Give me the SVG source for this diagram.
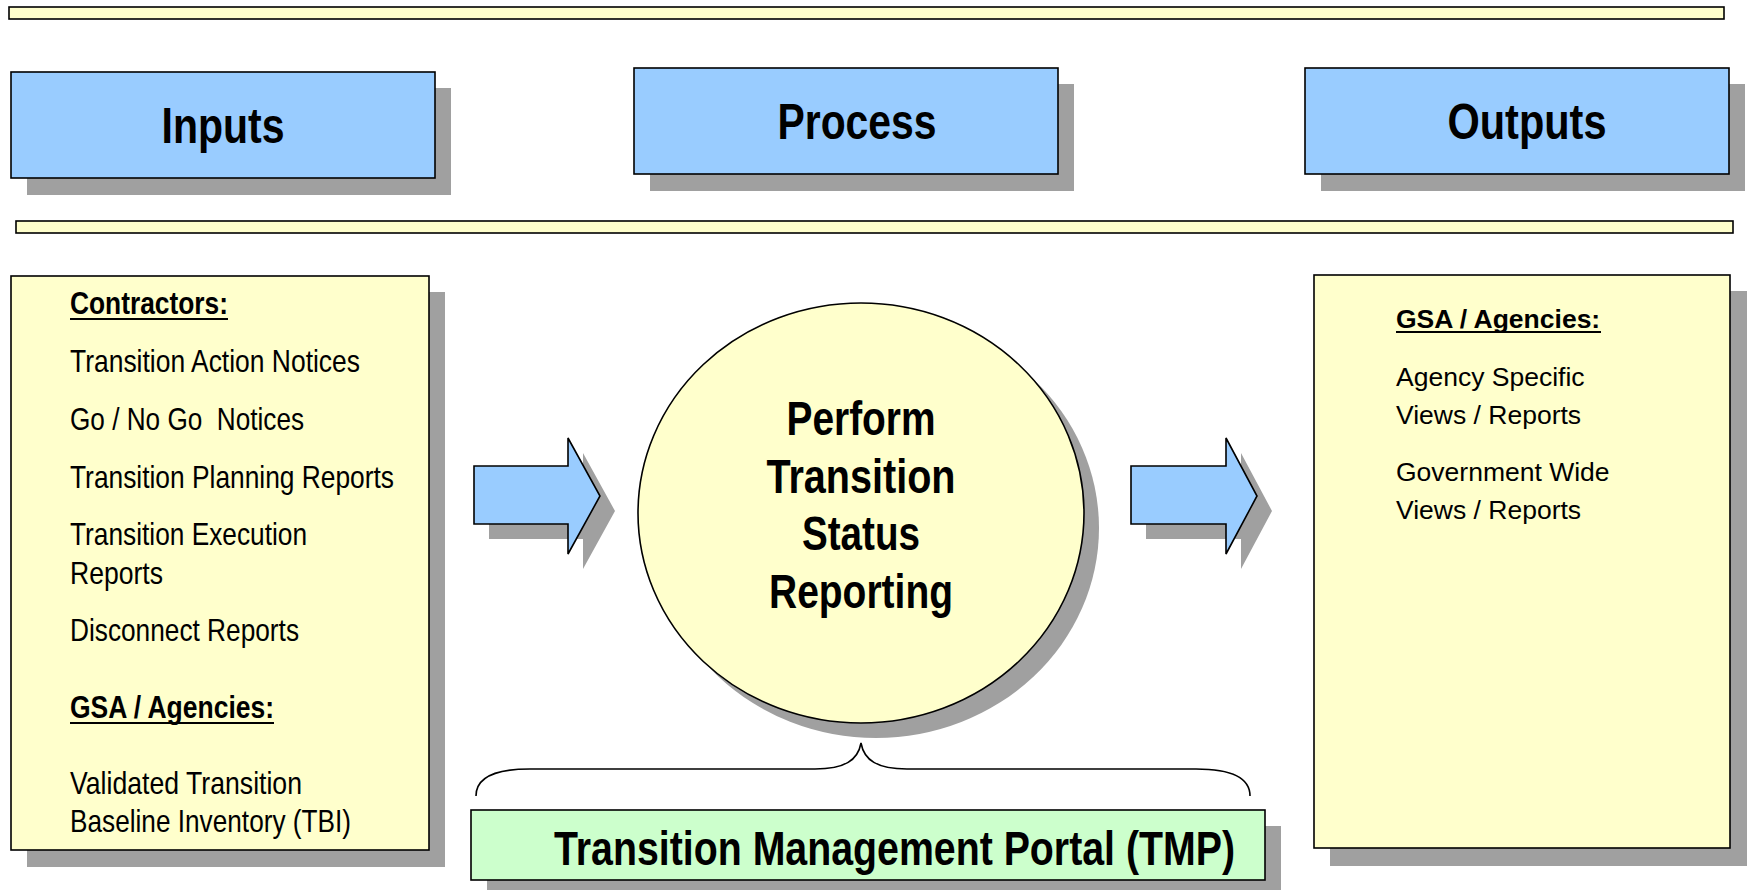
<svg xmlns="http://www.w3.org/2000/svg" width="1747" height="890" viewBox="0 0 1747 890">
<style>
.sh{fill:#a0a0a0;stroke:none}
.blue{fill:#99ccff;stroke:#000;stroke-width:1.6}
.yel{fill:#ffffcc;stroke:#000;stroke-width:1.6}
.grn{fill:#ccffcc;stroke:#000;stroke-width:1.6}
.nb{font-family:'Liberation Sans Narrow','Arial Narrow','Liberation Sans',Arial,sans-serif;font-weight:bold;fill:#000}
.nr{font-family:'Liberation Sans Narrow','Arial Narrow','Liberation Sans',Arial,sans-serif;font-weight:normal;fill:#000}
.ar{font-family:'Liberation Sans',Arial,sans-serif;fill:#000}
.ul{stroke:#000;stroke-width:2}
.brace{fill:none;stroke:#000;stroke-width:1.6}
</style>
<rect width="1747" height="890" fill="#fff"/>

<g id="bar-top"><rect class="yel" x="9" y="7" width="1715" height="12"/></g>
<g id="bar-mid"><rect class="yel" x="16" y="221" width="1717" height="12"/></g>

<g id="inputs">
<rect class="sh" x="27" y="88" width="424" height="107"/>
<rect class="blue" x="11" y="72" width="424" height="106"/>
<text class="nb" x="223" y="143" font-size="50" text-anchor="middle" textLength="123" lengthAdjust="spacingAndGlyphs">Inputs</text>
</g>

<g id="process">
<rect class="sh" x="650" y="84" width="424" height="107"/>
<rect class="blue" x="634" y="68" width="424" height="106"/>
<text class="nb" x="857" y="139" font-size="50" text-anchor="middle" textLength="159" lengthAdjust="spacingAndGlyphs">Process</text>
</g>

<g id="outputs">
<rect class="sh" x="1321" y="84" width="424" height="107"/>
<rect class="blue" x="1305" y="68" width="424" height="106"/>
<text class="nb" x="1527" y="139" font-size="50" text-anchor="middle" textLength="159" lengthAdjust="spacingAndGlyphs">Outputs</text>
</g>

<g id="inputs-list">
<rect class="sh" x="27" y="292" width="418" height="575"/>
<rect class="yel" x="11" y="276" width="418" height="574"/>
<text class="nb" x="70" y="314" font-size="32" textLength="158" lengthAdjust="spacingAndGlyphs">Contractors:</text>
<line class="ul" x1="70" y1="319" x2="228" y2="319"/>
<text class="nr" x="70" y="372" font-size="32" textLength="290" lengthAdjust="spacingAndGlyphs">Transition Action Notices</text>
<text class="nr" x="70" y="430" font-size="32" textLength="234" lengthAdjust="spacingAndGlyphs" xml:space="preserve">Go / No Go  Notices</text>
<text class="nr" x="70" y="488" font-size="32" textLength="324" lengthAdjust="spacingAndGlyphs">Transition Planning Reports</text>
<text class="nr" x="70" y="545" font-size="32" textLength="237" lengthAdjust="spacingAndGlyphs">Transition Execution</text>
<text class="nr" x="70" y="584" font-size="32" textLength="93" lengthAdjust="spacingAndGlyphs">Reports</text>
<text class="nr" x="70" y="641" font-size="32" textLength="229" lengthAdjust="spacingAndGlyphs">Disconnect Reports</text>
<text class="nb" x="70" y="718" font-size="32" textLength="204" lengthAdjust="spacingAndGlyphs">GSA / Agencies:</text>
<line class="ul" x1="70" y1="723" x2="274" y2="723"/>
<text class="nr" x="70" y="794" font-size="32" textLength="232" lengthAdjust="spacingAndGlyphs">Validated Transition</text>
<text class="nr" x="70" y="832" font-size="32" textLength="281" lengthAdjust="spacingAndGlyphs">Baseline Inventory (TBI)</text>
</g>

<g id="process-circle">
<ellipse class="sh" cx="876" cy="528" rx="223" ry="210"/>
<ellipse class="yel" cx="861" cy="513" rx="223" ry="210"/>
<text class="nb" x="861" y="435" font-size="48" text-anchor="middle" textLength="149" lengthAdjust="spacingAndGlyphs">Perform</text>
<text class="nb" x="861" y="493" font-size="48" text-anchor="middle" textLength="189" lengthAdjust="spacingAndGlyphs">Transition</text>
<text class="nb" x="861" y="550" font-size="48" text-anchor="middle" textLength="118" lengthAdjust="spacingAndGlyphs">Status</text>
<text class="nb" x="861" y="608" font-size="48" text-anchor="middle" textLength="184" lengthAdjust="spacingAndGlyphs">Reporting</text>
</g>

<g id="outputs-list">
<rect class="sh" x="1330" y="291" width="417" height="575"/>
<rect class="yel" x="1314" y="275" width="416" height="573"/>
<text class="ar" x="1396" y="328" font-size="26.5" font-weight="bold">GSA / Agencies:</text>
<line class="ul" x1="1396" y1="332" x2="1601" y2="332"/>
<text class="ar" x="1396" y="386" font-size="26.5">Agency Specific</text>
<text class="ar" x="1396" y="424" font-size="26.5">Views / Reports</text>
<text class="ar" x="1396" y="481" font-size="26.5">Government Wide</text>
<text class="ar" x="1396" y="519" font-size="26.5">Views / Reports</text>
</g>

<g id="tmp">
<rect class="sh" x="487" y="826" width="794" height="64"/>
<rect class="grn" x="471" y="810" width="794" height="70"/>
<text class="nb" x="554" y="865" font-size="48" textLength="681" lengthAdjust="spacingAndGlyphs">Transition Management Portal (TMP)</text>
</g>

<g id="connectors">
<path class="sh" d="M489,481 H583 V453 L615,511 L583,569 V539 H489 Z"/>
<path class="blue" d="M474,466 H568 V438 L600,496 L568,554 V524 H474 Z"/>
<path class="sh" d="M1146,481 H1241 V453 L1272,511 L1241,569 V539 H1146 Z"/>
<path class="blue" d="M1131,466 H1226 V438 L1257,496 L1226,554 V524 H1131 Z"/>
<path class="brace" d="M476,796 C476,780 490,769 530,769 L815,769 C845,769 858,760 861,743 C864,760 877,769 907,769 L1196,769 C1236,769 1250,780 1250,796"/>
</g>
</svg>
